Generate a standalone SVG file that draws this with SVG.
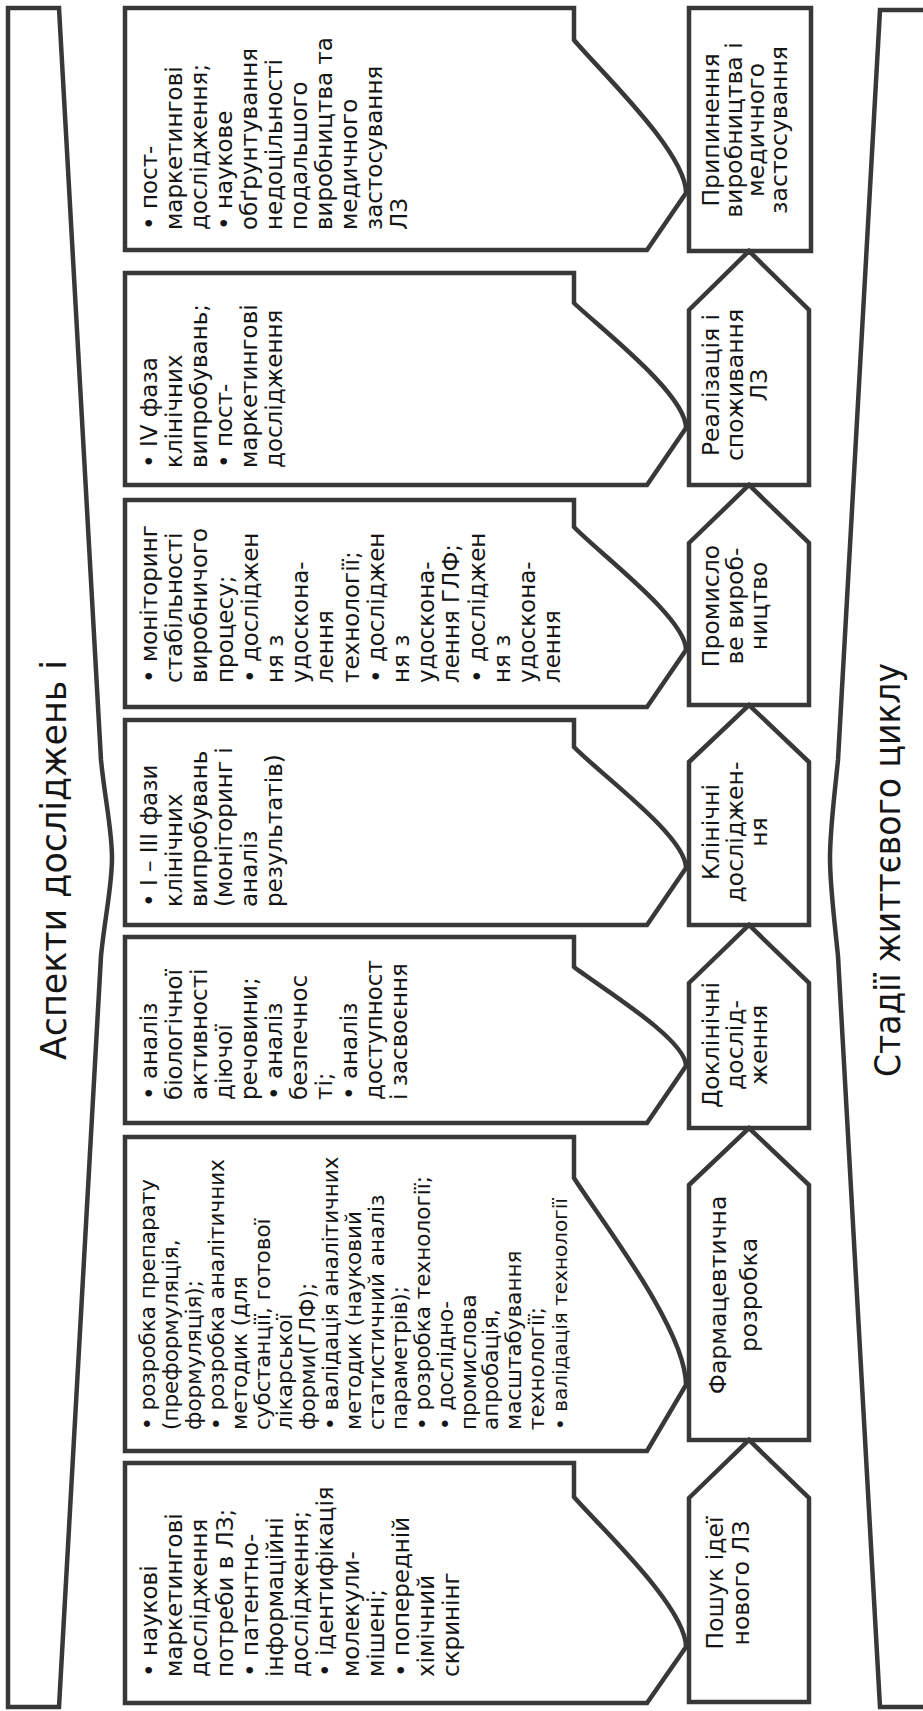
<svg xmlns="http://www.w3.org/2000/svg" width="923" height="1711" viewBox="0 0 923 1711">
<style>
.ln{fill:#fff;stroke:#383838;stroke-width:4.5;stroke-linejoin:miter}
.fr{fill:none;stroke:#383838;stroke-width:4.5}
.t{font-family:"DejaVu Sans","Liberation Sans",sans-serif;fill:#151515}
.b{font-size:23px}
.b6{font-size:21.5px}
.s{font-size:23.5px;text-anchor:middle}
.h{font-size:36px;text-anchor:middle}
</style>
<rect width="923" height="1711" fill="#fff"/>
<g id="frame-left">
<path class="fr" d="M8,8 L59,8 L101,760 C105,800 112,830 112,858 C112,886 105,916 101,956 L59,1707 L8,1707 Z"/>
<text class="t h" transform="translate(66,860) rotate(-90)" textLength="400" lengthAdjust="spacingAndGlyphs">Аспекти досліджень і</text>
</g>
<g id="frame-right">
<path class="fr" d="M935,10 L880,10 L838,760 C834,800 830,830 830,858 C830,886 834,916 838,956 L880,1707 L935,1707"/>
<text class="t h" transform="translate(900,870) rotate(-90)" font-size="38" textLength="414" lengthAdjust="spacingAndGlyphs">Стадії життєвого циклу</text>
</g>
<g id="aspect-1">
<path class="ln" d="M125,8 L574,8 L574,40 C600,71 686,152 686,193 L647,250 L125,250 Z"/>
<text class="t b" transform="translate(157,230) rotate(-90)"><tspan x="0" dy="0">• пост-</tspan><tspan x="0" dy="25">маркетингові</tspan><tspan x="0" dy="25">дослідження;</tspan><tspan x="0" dy="25">• наукове</tspan><tspan x="0" dy="25">обґрунтування</tspan><tspan x="0" dy="25">недоцільності</tspan><tspan x="0" dy="25">подальшого</tspan><tspan x="0" dy="25">виробництва та</tspan><tspan x="0" dy="25">медичного</tspan><tspan x="0" dy="25">застосування</tspan><tspan x="0" dy="25">ЛЗ</tspan></text>
</g>
<g id="aspect-2">
<path class="ln" d="M125,273 L574,273 L574,303 C600,328 686,394 686,428 L647,485 L125,485 Z"/>
<text class="t b" transform="translate(157,468) rotate(-90)"><tspan x="0" dy="0">• IV фаза</tspan><tspan x="0" dy="25">клінічних</tspan><tspan x="0" dy="25">випробувань;</tspan><tspan x="0" dy="25">• пост-</tspan><tspan x="0" dy="25">маркетингові</tspan><tspan x="0" dy="25">дослідження</tspan></text>
</g>
<g id="aspect-3">
<path class="ln" d="M125,500 L574,500 L574,527 C600,554 686,618 686,650 L647,707 L125,707 Z"/>
<text class="t b" transform="translate(157,683) rotate(-90)"><tspan x="0" dy="0">• моніторинг</tspan><tspan x="0" dy="25.2">стабільності</tspan><tspan x="0" dy="25.2">виробничого</tspan><tspan x="0" dy="25.2">процесу;</tspan><tspan x="0" dy="25.2">• досліджен</tspan><tspan x="0" dy="25.2">ня з</tspan><tspan x="0" dy="25.2">удоскона-</tspan><tspan x="0" dy="25.2">лення</tspan><tspan x="0" dy="25.2">технології;</tspan><tspan x="0" dy="25.2">• досліджен</tspan><tspan x="0" dy="25.2">ня з</tspan><tspan x="0" dy="25.2">удоскона-</tspan><tspan x="0" dy="25.2">лення ГЛФ;</tspan><tspan x="0" dy="25.2">• досліджен</tspan><tspan x="0" dy="25.2">ня з</tspan><tspan x="0" dy="25.2">удоскона-</tspan><tspan x="0" dy="25.2">лення</tspan></text>
</g>
<g id="aspect-4">
<path class="ln" d="M125,720 L574,720 L574,747 C600,774 686,836 686,868 L647,925 L125,925 Z"/>
<text class="t b" transform="translate(157,907) rotate(-90)"><tspan x="0" dy="0">• І – ІІІ фази</tspan><tspan x="0" dy="25">клінічних</tspan><tspan x="0" dy="25">випробувань</tspan><tspan x="0" dy="25">(моніторинг і</tspan><tspan x="0" dy="25">аналіз</tspan><tspan x="0" dy="25">результатів)</tspan></text>
</g>
<g id="aspect-5">
<path class="ln" d="M125,937 L574,937 L574,967 C600,987 686,1039 686,1066 L647,1123 L125,1123 Z"/>
<text class="t b" transform="translate(157,1100) rotate(-90)"><tspan x="0" dy="0">• аналіз</tspan><tspan x="0" dy="25">біологічної</tspan><tspan x="0" dy="25">активності</tspan><tspan x="0" dy="25">діючої</tspan><tspan x="0" dy="25">речовини;</tspan><tspan x="0" dy="25">• аналіз</tspan><tspan x="0" dy="25">безпечнос</tspan><tspan x="0" dy="25">ті;</tspan><tspan x="0" dy="25">• аналіз</tspan><tspan x="0" dy="25">доступност</tspan><tspan x="0" dy="25">і засвоєння</tspan></text>
</g>
<g id="aspect-6">
<path class="ln" d="M125,1137 L574,1137 L574,1178 C600,1219 686,1329 686,1385 L647,1451 L125,1451 Z"/>
<text class="t b6" transform="translate(155,1430) rotate(-90)"><tspan x="0" dy="0">• розробка препарату</tspan><tspan x="0" dy="22.9">(преформуляція,</tspan><tspan x="0" dy="22.9">формуляція);</tspan><tspan x="0" dy="22.9">• розробка аналітичних</tspan><tspan x="0" dy="22.9">методик (для</tspan><tspan x="0" dy="22.9">субстанції, готової</tspan><tspan x="0" dy="22.9">лікарської</tspan><tspan x="0" dy="22.9">форми(ГЛФ);</tspan><tspan x="0" dy="22.9">• валідація аналітичних</tspan><tspan x="0" dy="22.9">методик (науковий</tspan><tspan x="0" dy="22.9">статистичний аналіз</tspan><tspan x="0" dy="22.9">параметрів);</tspan><tspan x="0" dy="22.9">• розробка технології;</tspan><tspan x="0" dy="22.9">• дослідно-</tspan><tspan x="0" dy="22.9">промислова</tspan><tspan x="0" dy="22.9">апробація,</tspan><tspan x="0" dy="22.9">масштабування</tspan><tspan x="0" dy="22.9">технології;</tspan><tspan x="0" dy="22.9" font-size="20">• валідація технології</tspan></text>
</g>
<g id="aspect-7">
<path class="ln" d="M125,1463 L574,1463 L574,1497 C600,1527 686,1607 686,1647 L647,1703 L125,1703 Z"/>
<text class="t b" transform="translate(157,1677) rotate(-90)"><tspan x="0" dy="0">• наукові</tspan><tspan x="0" dy="25.2">маркетингові</tspan><tspan x="0" dy="25.2">дослідження</tspan><tspan x="0" dy="25.2">потреби в ЛЗ;</tspan><tspan x="0" dy="25.2">• патентно-</tspan><tspan x="0" dy="25.2">інформаційні</tspan><tspan x="0" dy="25.2">дослідження;</tspan><tspan x="0" dy="25.2">• ідентифікація</tspan><tspan x="0" dy="25.2">молекули-</tspan><tspan x="0" dy="25.2">мішені;</tspan><tspan x="0" dy="25.2">• попередній</tspan><tspan x="0" dy="25.2">хімічний</tspan><tspan x="0" dy="25.2">скринінг</tspan></text>
</g>
<g id="stage-7">
<path class="ln" d="M689,8 L811,8 L811,251 L689,251 Z"/>
<text class="t s" transform="translate(719,130) rotate(-90)"><tspan x="0" dy="0">Припинення</tspan><tspan x="0" dy="22.5">виробництва і</tspan><tspan x="0" dy="22.5">медичного</tspan><tspan x="0" dy="22.5">застосування</tspan></text>
</g>
<g id="stage-6">
<path class="ln" d="M689,310 L749,251 L809,310 L809,485 L689,485 Z"/>
<text class="t s" transform="translate(719,385) rotate(-90)"><tspan x="0" dy="0">Реалізація і</tspan><tspan x="0" dy="24">споживання</tspan><tspan x="0" dy="24">ЛЗ</tspan></text>
</g>
<g id="stage-5">
<path class="ln" d="M689,543 L749,485 L809,543 L809,705 L689,705 Z"/>
<text class="t s" transform="translate(719,606) rotate(-90)"><tspan x="0" dy="0">Промисло</tspan><tspan x="0" dy="24">ве вироб-</tspan><tspan x="0" dy="24">ництво</tspan></text>
</g>
<g id="stage-4">
<path class="ln" d="M689,762 L749,705 L809,762 L809,925 L689,925 Z"/>
<text class="t s" transform="translate(719,832) rotate(-90)"><tspan x="0" dy="0">Клінічні</tspan><tspan x="0" dy="24">досліджен-</tspan><tspan x="0" dy="24">ня</tspan></text>
</g>
<g id="stage-3">
<path class="ln" d="M689,983 L749,925 L809,983 L809,1128 L689,1128 Z"/>
<text class="t s" transform="translate(719,1045) rotate(-90)"><tspan x="0" dy="0">Доклінічні</tspan><tspan x="0" dy="24">дослід-</tspan><tspan x="0" dy="24">ження</tspan></text>
</g>
<g id="stage-2">
<path class="ln" d="M689,1185 L749,1128 L809,1185 L809,1440 L689,1440 Z"/>
<text class="t s" transform="translate(726,1295) rotate(-90)" font-size="26"><tspan x="0" dy="0">Фармацевтична</tspan><tspan x="0" dy="31">розробка</tspan></text>
</g>
<g id="stage-1">
<path class="ln" d="M689,1498 L749,1440 L809,1498 L809,1702 L689,1702 Z"/>
<text class="t s" transform="translate(723,1583) rotate(-90)" font-size="25"><tspan x="0" dy="0">Пошук ідеї</tspan><tspan x="0" dy="26">нового ЛЗ</tspan></text>
</g>
<g id="connectors"></g>
</svg>
